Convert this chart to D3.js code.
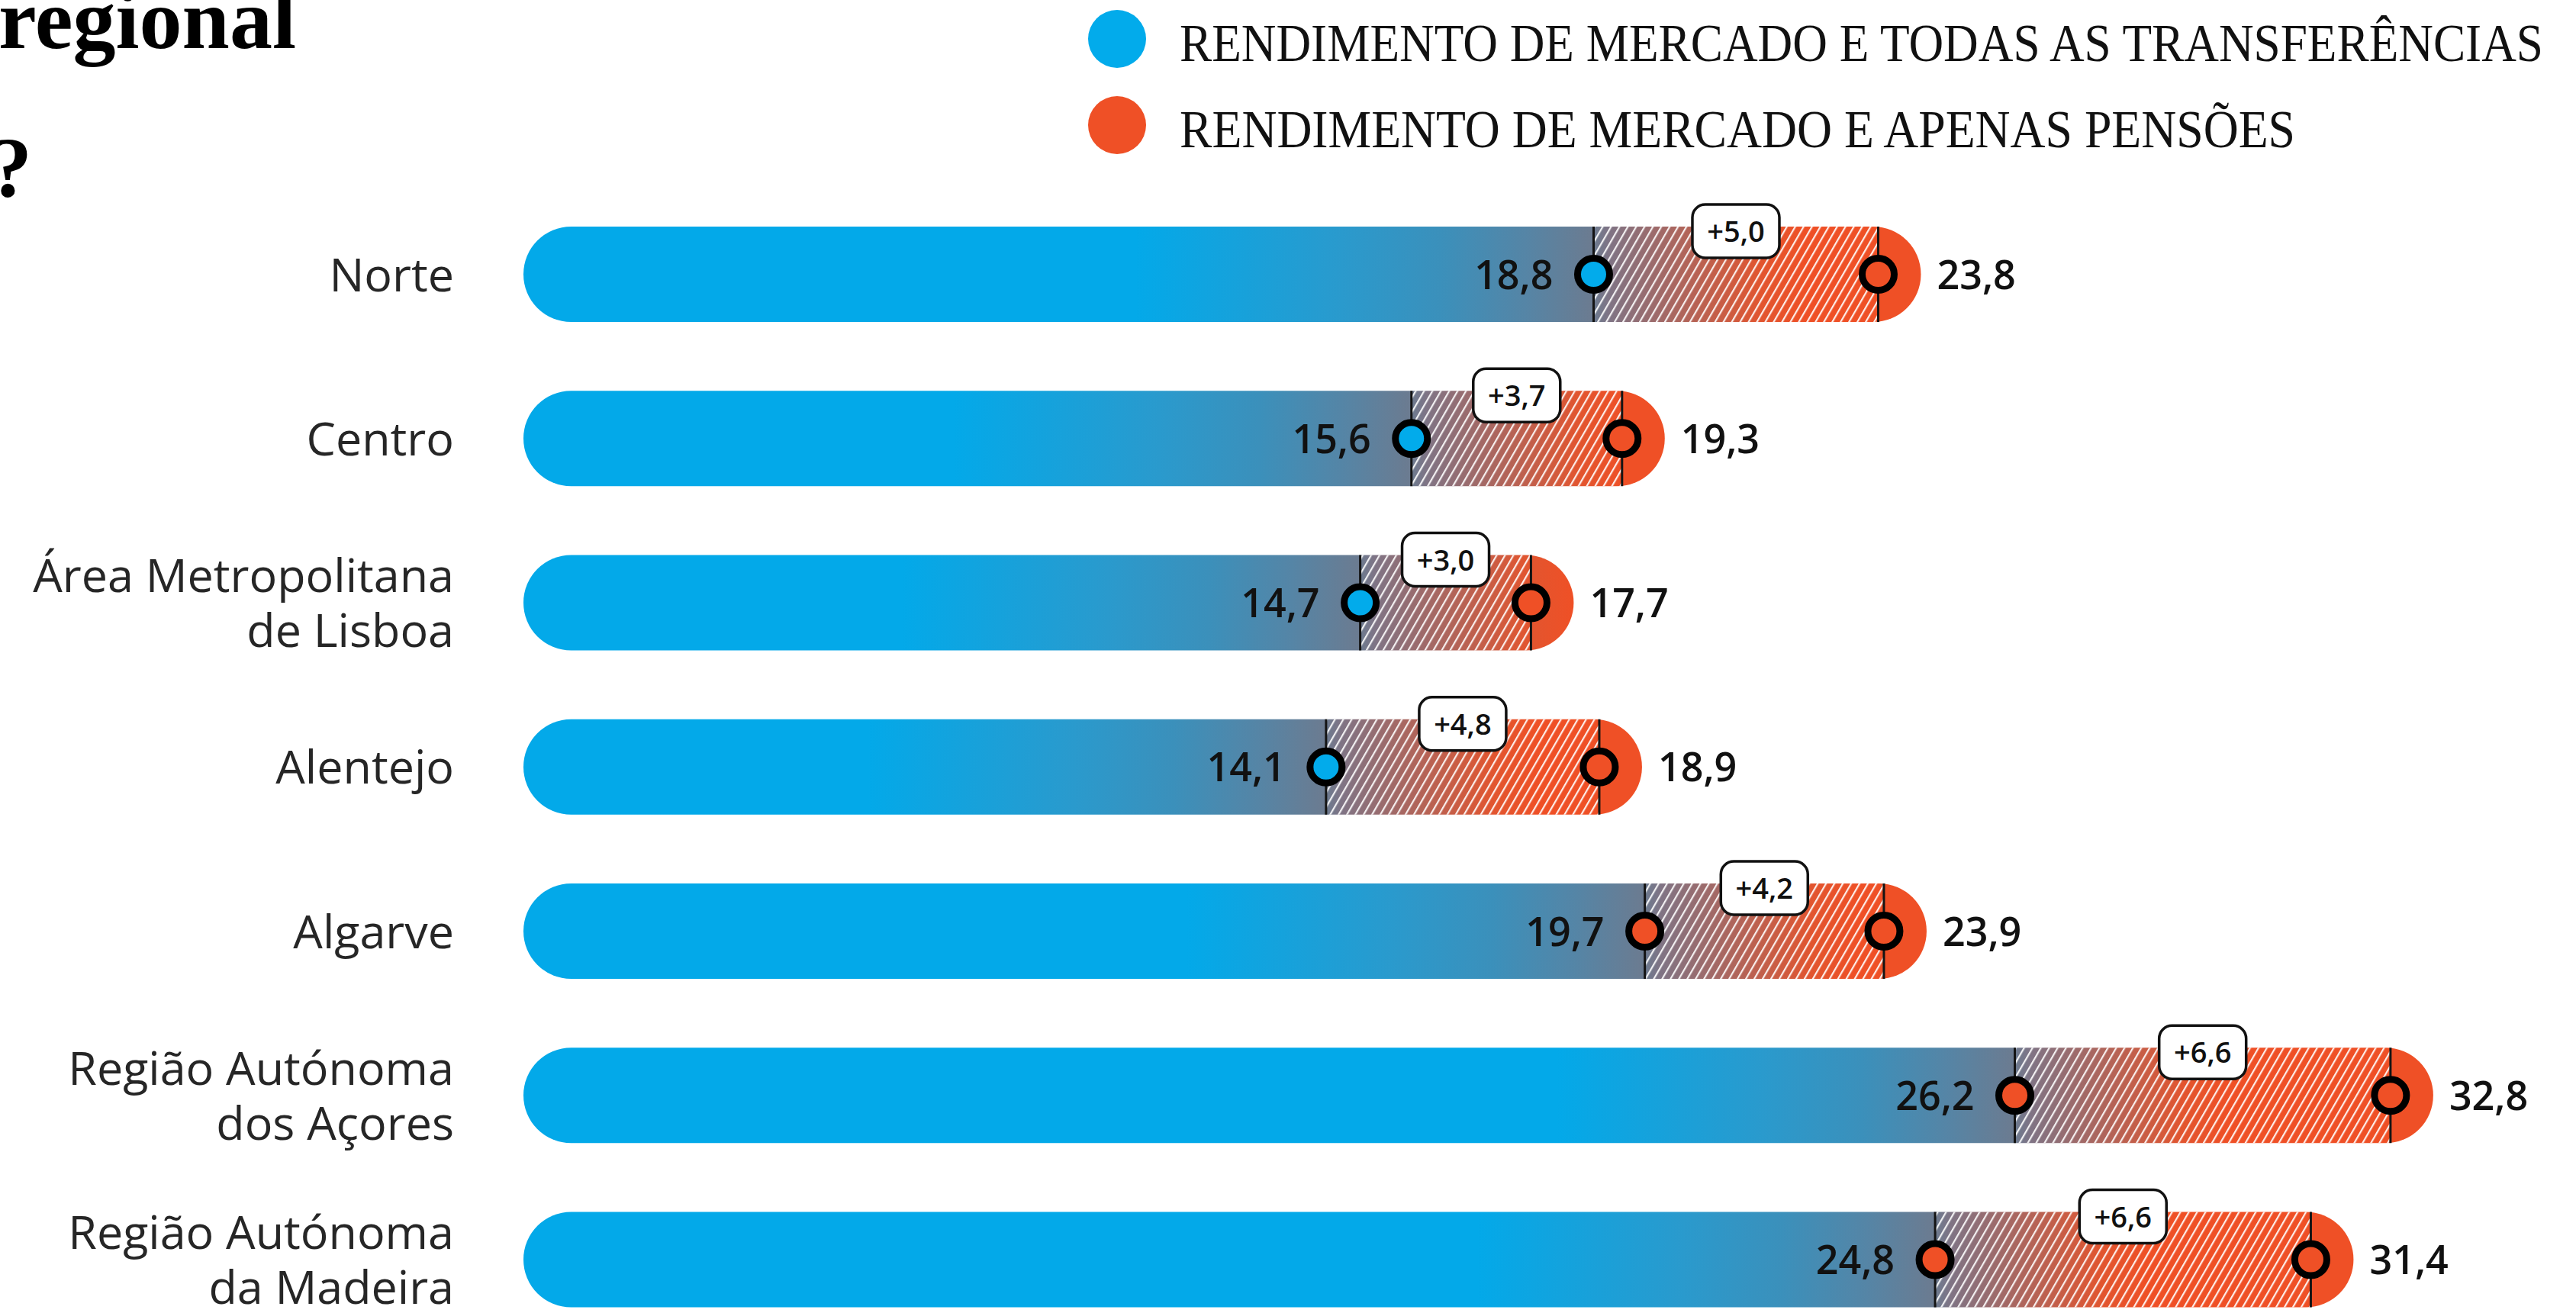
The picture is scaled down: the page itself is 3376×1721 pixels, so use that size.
<!DOCTYPE html>
<html><head><meta charset="utf-8">
<script src="https://cdn.jsdelivr.net/npm/d3@7"></script>
<style>html,body{margin:0;padding:0;background:#fff;overflow:hidden} svg{display:block}</style>
</head><body>
<svg id="chart" width="3376" height="1721"></svg>
<script>
// ---------- data ----------
const regions = ["Norte","Centro","Área Metropolitana de Lisboa","Alentejo","Algarve","Região Autónoma dos Açores","Região Autónoma da Madeira"];
const regionLines = [["Norte"],["Centro"],["Área Metropolitana","de Lisboa"],["Alentejo"],["Algarve"],["Região Autónoma","dos Açores"],["Região Autónoma","da Madeira"]];
const allTransfers = [18.8, 15.6, 14.7, 14.1, 19.7, 26.2, 24.8];
const pensionsOnly = [23.8, 19.3, 17.7, 18.9, 23.9, 32.8, 31.4];
const firstMarkerSeries = ["all","all","all","all","pensions","pensions","pensions"];
const legendLabels = ["RENDIMENTO DE MERCADO E TODAS AS TRANSFERÊNCIAS","RENDIMENTO DE MERCADO E APENAS PENSÕES"];
const titleLines = ["regional","?"];

// ---------- styles ----------
const BLUE = "#02abeb", RED = "#ef5026", INK = "#141414";
const seriesColor = {all: BLUE, pensions: RED};
const ptLocale = d3.formatLocale({decimal: ",", thousands: ".", grouping: [3], currency: ["", " €"]});
const fmt = ptLocale.format(".1f");
const fmtDiff = ptLocale.format("+.1f");

const svg = d3.select("#chart");
const defs = svg.append("defs");

const x = d3.scaleLinear().domain([0, 35]).range([686, 686 + 35 * 74.6]);
const y = d3.scalePoint().domain(regions).range([359.5, 1651]);
const BAR_H = 125, CAP = 56;

// hatch pattern
const pat = defs.append("pattern").attr("id", "hatch")
  .attr("patternUnits", "userSpaceOnUse").attr("width", 9.5).attr("height", 9.5)
  .attr("patternTransform", "rotate(30)");
pat.append("rect").attr("x", 0).attr("y", 0).attr("width", 2.2).attr("height", 9.5)
  .attr("fill", "#fff").attr("opacity", 0.9);

// gradient stops relative to first marker (px offset, colour)
const gradStops = [[-600, "#03a9e9"], [-330, "#2a9acd"], [-200, "#3b90bb"], [-90, "#5585a6"], [0, "#6c7b90"], [20, "#7f7485"], [110, "#ac665e"], [220, "#e2552f"], [280, RED]];

const data = regions.map((r, i) => ({
  region: r, lines: regionLines[i], v1: allTransfers[i], v2: pensionsOnly[i],
  first: firstMarkerSeries[i], i
}));

data.forEach(d => {
  const x0 = x(d.v1) + gradStops[0][0], x1 = x(d.v1) + gradStops[gradStops.length - 1][0];
  const g = defs.append("linearGradient").attr("id", "grad" + d.i)
    .attr("gradientUnits", "userSpaceOnUse")
    .attr("x1", x0).attr("x2", x1).attr("y1", 0).attr("y2", 0);
  gradStops.forEach(s => g.append("stop")
    .attr("offset", (s[0] - gradStops[0][0]) / (x1 - x0))
    .attr("stop-color", s[1]));
});

// ---------- title (cropped) ----------
svg.append("g").selectAll("text").data(titleLines).join("text")
  .attr("x", (d, i) => i === 0 ? 388 : 42)
  .attr("y", (d, i) => i === 0 ? 63 : 257)
  .attr("text-anchor", "end")
  .attr("font-family", "'Liberation Serif', serif")
  .attr("font-weight", 700)
  .attr("font-size", 112)
  .attr("fill", "#000")
  .text(d => d);

// ---------- legend ----------
const legend = svg.append("g");
const legendItems = legend.selectAll("g").data(legendLabels).join("g");
legendItems.append("circle")
  .attr("cx", 1464).attr("cy", (d, i) => 51 + i * 113).attr("r", 38)
  .attr("fill", (d, i) => i === 0 ? BLUE : RED);
legendItems.append("text")
  .attr("x", 1546).attr("y", (d, i) => 80 + i * 113)
  .attr("font-family", "'Liberation Serif', serif")
  .attr("font-size", 70)
  .attr("fill", "#111")
  .attr("textLength", (d, i) => i === 0 ? 1787 : 1462)
  .attr("lengthAdjust", "spacingAndGlyphs")
  .text(d => d);

// ---------- rows ----------
const rows = svg.append("g").selectAll("g").data(data).join("g");

// category labels
rows.append("text")
  .attr("text-anchor", "end")
  .attr("font-family", "'Open Sans', sans-serif")
  .attr("font-size", 61)
  .attr("fill", "#262626")
  .each(function(d) {
    const t = d3.select(this);
    const cy = y(d.region);
    const base = d.lines.length === 1 ? [cy + 22] : [cy - 14, cy + 58];
    d.lines.forEach((ln, k) => t.append("tspan").attr("x", 595).attr("y", base[k]).text(ln));
  });

// full bar with gradient
rows.append("rect")
  .attr("x", x(0))
  .attr("y", d => y(d.region) - BAR_H / 2)
  .attr("width", d => x(d.v2) + CAP - x(0))
  .attr("height", BAR_H)
  .attr("rx", BAR_H / 2).attr("ry", BAR_H / 2)
  .attr("fill", d => `url(#grad${d.i})`);

// hatched difference
rows.append("rect")
  .attr("x", d => x(d.v1))
  .attr("y", d => y(d.region) - BAR_H / 2)
  .attr("width", d => x(d.v2) - x(d.v1))
  .attr("height", BAR_H)
  .attr("fill", "url(#hatch)");

// vertical rules
["v1", "v2"].forEach(k => rows.append("line")
  .attr("x1", d => x(d[k])).attr("x2", d => x(d[k]))
  .attr("y1", d => y(d.region) - BAR_H / 2).attr("y2", d => y(d.region) + BAR_H / 2)
  .attr("stroke", INK).attr("stroke-width", 3));

// markers
rows.append("circle")
  .attr("cx", d => x(d.v1)).attr("cy", d => y(d.region)).attr("r", 21)
  .attr("fill", d => seriesColor[d.first]).attr("stroke", "#000").attr("stroke-width", 9);
rows.append("circle")
  .attr("cx", d => x(d.v2)).attr("cy", d => y(d.region)).attr("r", 21)
  .attr("fill", RED).attr("stroke", "#000").attr("stroke-width", 9);

// value labels
rows.append("text")
  .attr("x", d => x(d.v1) - 53).attr("y", d => y(d.region) + 19)
  .attr("text-anchor", "end")
  .attr("font-family", "'Open Sans', sans-serif").attr("font-weight", 600)
  .attr("font-size", 52).attr("fill", "#111")
  .text(d => fmt(d.v1));
rows.append("text")
  .attr("x", d => x(d.v2) + CAP + 21).attr("y", d => y(d.region) + 19)
  .attr("text-anchor", "start")
  .attr("font-family", "'Open Sans', sans-serif").attr("font-weight", 600)
  .attr("font-size", 52).attr("fill", "#111")
  .text(d => fmt(d.v2));

// difference boxes
const BOX_W = 114, BOX_H = 70;
rows.append("rect")
  .attr("x", d => x((d.v1 + d.v2) / 2) - BOX_W / 2)
  .attr("y", d => y(d.region) - BAR_H / 2 + 6 - BOX_H / 2)
  .attr("width", BOX_W).attr("height", BOX_H)
  .attr("rx", 17).attr("ry", 17)
  .attr("fill", "#fff").attr("stroke", "#111").attr("stroke-width", 3.5);
rows.append("text")
  .attr("x", d => x((d.v1 + d.v2) / 2))
  .attr("y", d => y(d.region) - BAR_H / 2 + 6 + 14)
  .attr("text-anchor", "middle")
  .attr("font-family", "'Open Sans', sans-serif").attr("font-weight", 600)
  .attr("font-size", 38).attr("fill", "#111")
  .text(d => fmtDiff(d.v2 - d.v1));
</script>
</body></html>
